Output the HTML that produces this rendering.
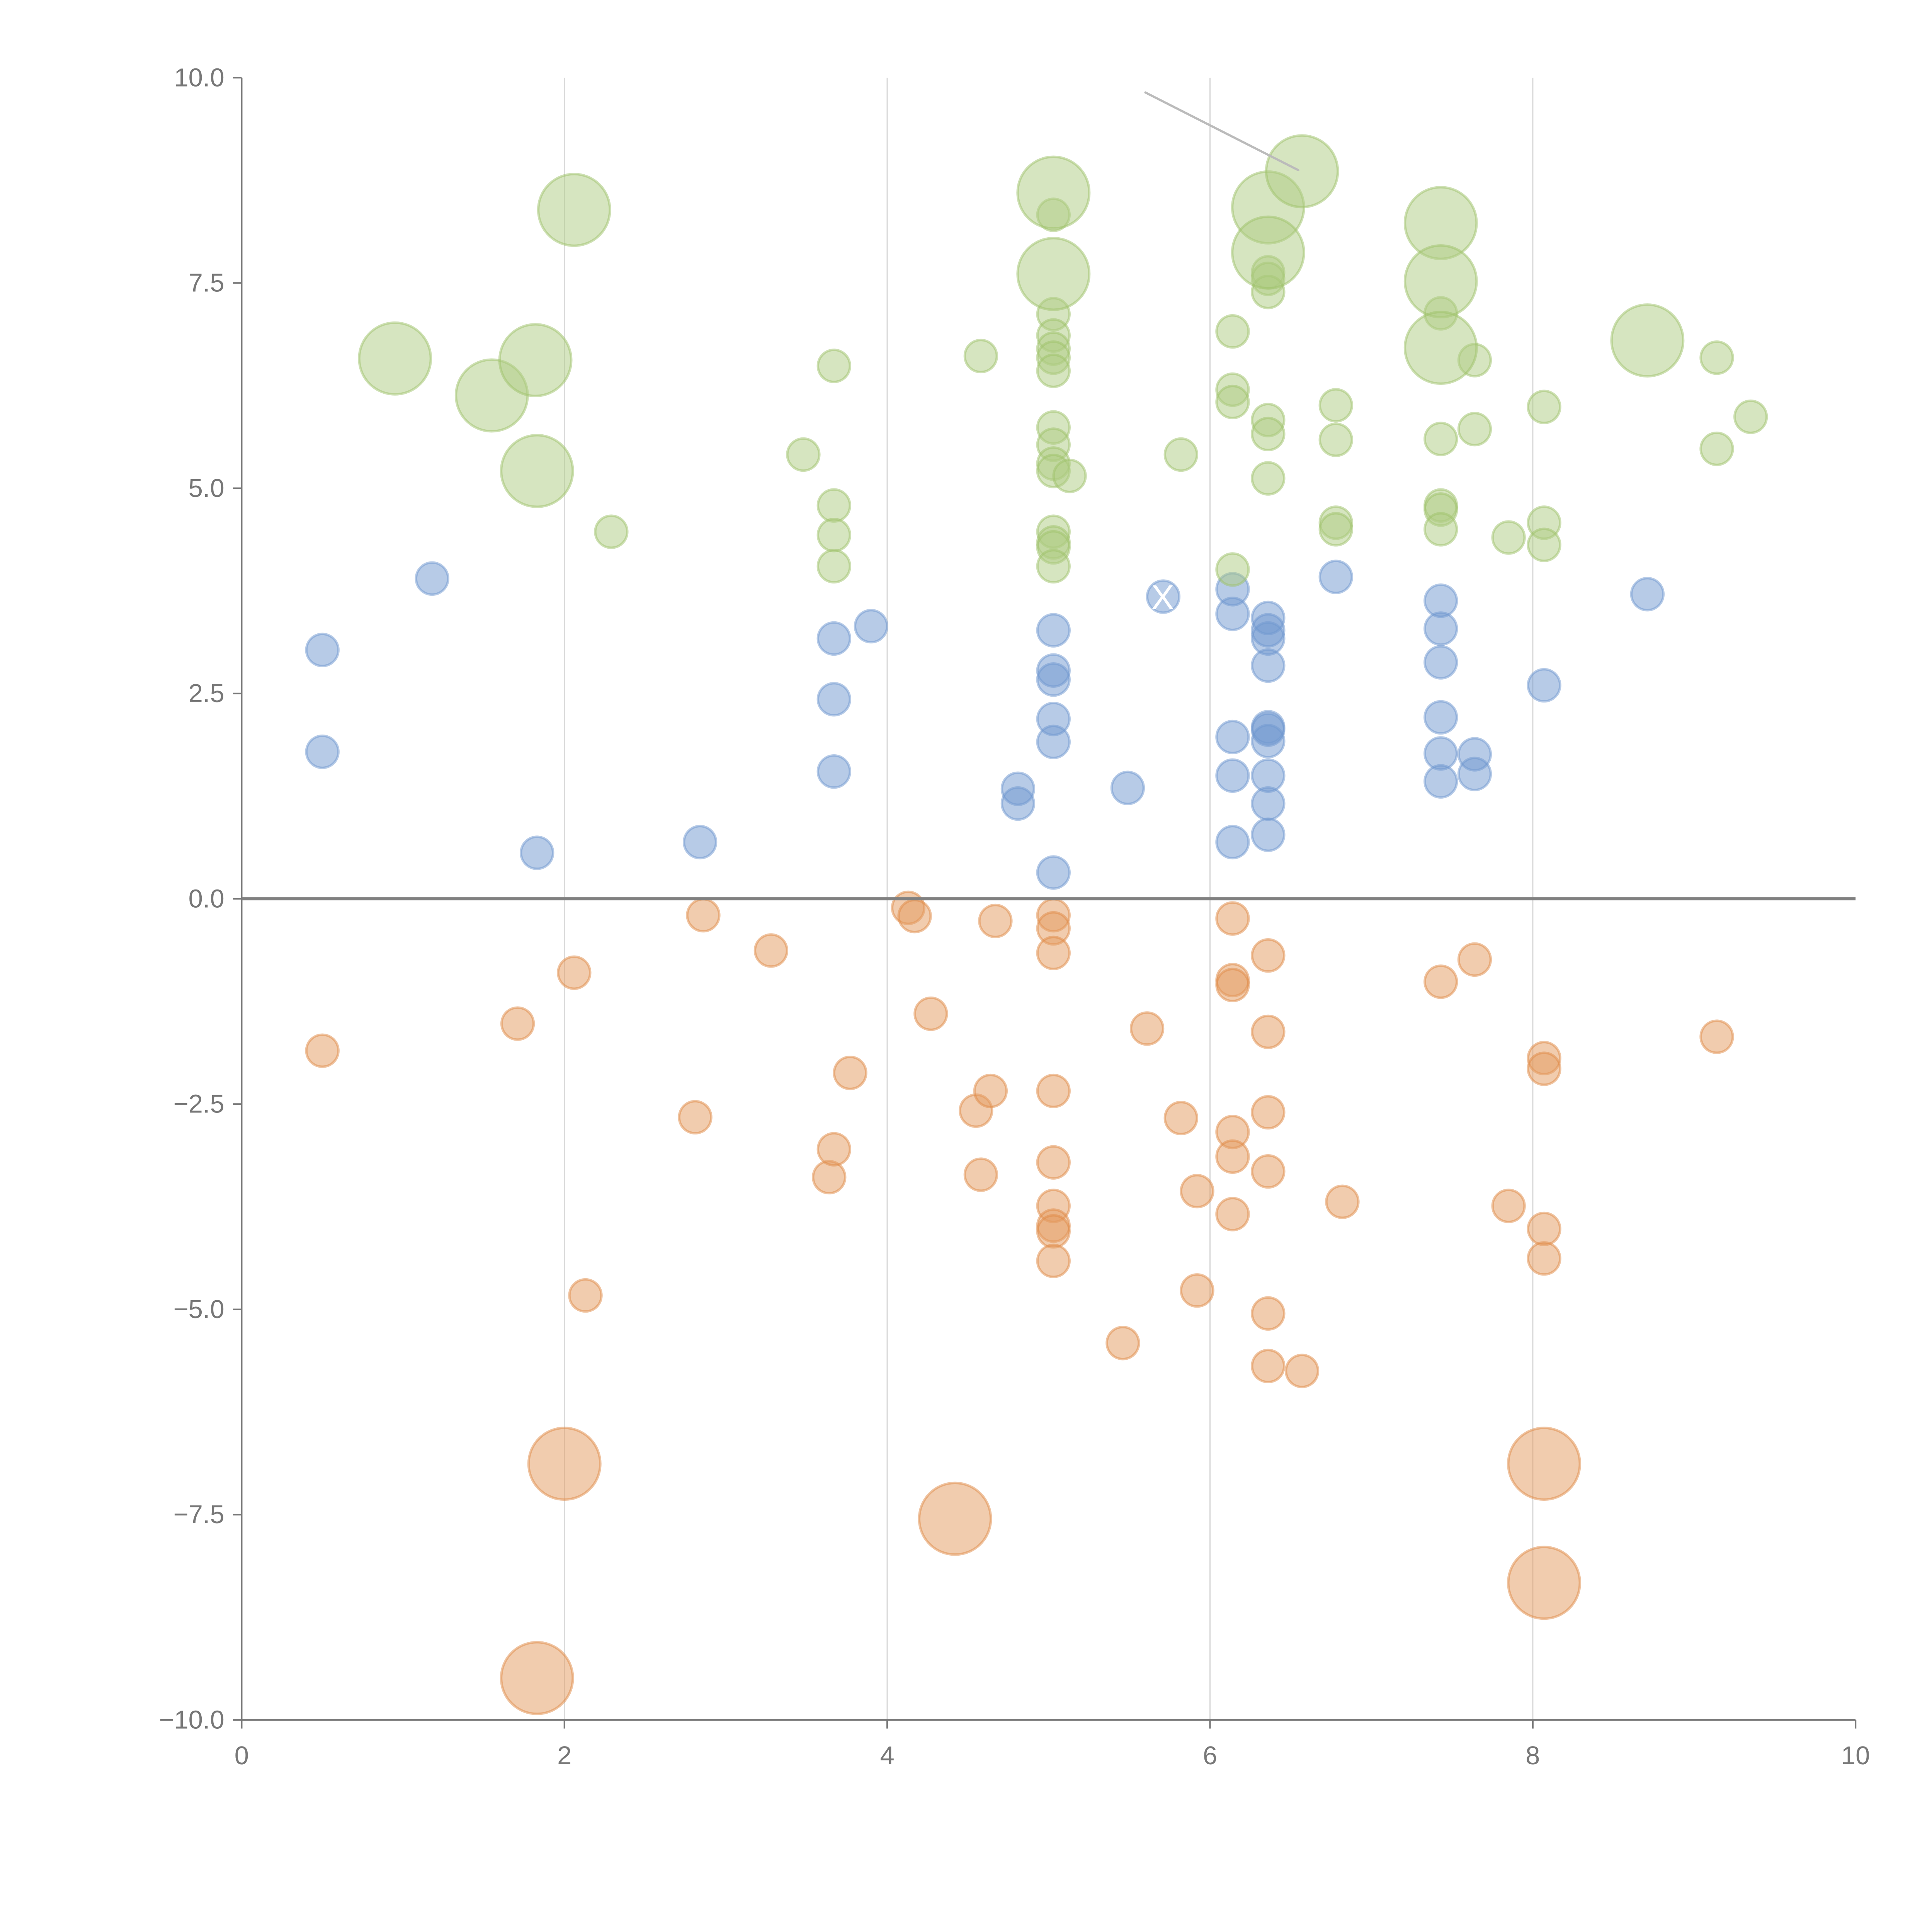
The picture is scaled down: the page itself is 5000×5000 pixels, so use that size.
<!DOCTYPE html>
<html><head><meta charset="utf-8"><style>
html,body{margin:0;padding:0;background:#fff;width:5000px;height:5000px;overflow:hidden}
svg{display:block}
text{font-family:"Liberation Sans",sans-serif;fill:#777}
</style></head><body>
<svg id="chart" width="5000" height="5000" viewBox="0 0 1567 1567" xmlns="http://www.w3.org/2000/svg">
<g id="grid"></g>
<g id="marks"></g>
<g id="axes"></g>
</svg>
<script>
const xTicks=[0,2,4,6,8,10];
const xTickLabels=["0","2","4","6","8","10"];
const yTicks=[10,7.5,5,2.5,0,-2.5,-5,-7.5,-10];
const yTickLabels=["10.0","7.5","5.0","2.5","0.0","\u22122.5","\u22125.0","\u22127.5","\u221210.0"];
const blueX=[0.5,0.5,1.18,1.83,2.84,3.67,3.67,3.67,3.9,4.81,4.81,5.03,5.03,5.03,5.03,5.03,5.03,5.49,5.71,6.14,6.14,6.14,6.14,6.14,6.36,6.36,6.36,6.36,6.36,6.36,6.36,6.36,6.36,6.36,6.78,7.43,7.43,7.43,7.43,7.43,7.43,7.64,7.64,8.07,8.71];
const blueY=[3.03,1.79,3.9,0.56,0.69,3.17,2.43,1.55,3.32,1.34,1.16,3.27,2.78,2.67,2.19,1.91,0.32,1.35,3.68,3.77,3.47,1.97,1.5,0.69,3.42,3.27,3.17,2.84,2.09,2.06,1.92,1.5,1.16,0.78,3.92,3.63,3.29,2.88,2.21,1.77,1.43,1.76,1.52,2.6,3.71];
const blueS=blueX.map(()=>1);
const orangeX=[0.5,1.71,2.06,2.13,2.81,2.86,3.28,3.64,3.67,3.77,4.13,4.17,4.27,4.55,4.58,4.64,4.67,5.03,5.03,5.03,5.03,5.03,5.03,5.03,5.03,5.03,5.46,5.61,5.82,5.92,5.92,6.14,6.14,6.14,6.14,6.14,6.14,6.36,6.36,6.36,6.36,6.36,6.36,6.57,6.82,7.43,7.64,7.85,8.07,8.07,8.07,8.07,9.14,2.0,4.42,1.83,8.07,8.07];
const orangeY=[-1.85,-1.52,-0.9,-4.83,-2.66,-0.2,-0.63,-3.39,-3.05,-2.12,-0.11,-0.21,-1.4,-2.58,-3.36,-2.34,-0.27,-0.2,-0.36,-0.66,-2.34,-3.21,-3.74,-3.98,-4.05,-4.41,-5.41,-1.58,-2.67,-3.56,-4.77,-0.24,-0.99,-1.05,-2.84,-3.14,-3.84,-0.69,-1.62,-2.6,-3.32,-5.05,-5.69,-5.75,-3.69,-1.01,-0.74,-3.74,-1.94,-2.07,-4.02,-4.38,-1.68,-6.88,-7.55,-9.49,-6.88,-8.33];
const orangeS=orangeX.map((_,i)=>i>=53?5:1);
const greenX=[2.29,3.48,3.67,3.67,3.67,3.67,4.58,5.03,5.03,5.03,5.03,5.03,5.03,5.03,5.03,5.03,5.03,5.03,5.03,5.03,5.03,5.13,5.82,6.14,6.14,6.14,6.14,6.36,6.36,6.36,6.36,6.36,6.36,6.78,6.78,6.78,6.78,7.43,7.43,7.43,7.43,7.43,7.64,7.64,7.85,8.07,8.07,8.07,9.14,9.14,9.35,0.95,1.55,1.82,1.83,2.06,5.03,5.03,6.36,6.36,6.57,7.43,7.43,7.43,8.71];
const greenY=[4.47,5.41,6.49,4.79,4.43,4.05,6.61,8.33,7.12,6.86,6.7,6.59,6.43,5.74,5.53,5.3,5.21,4.47,4.34,4.28,4.05,5.15,5.41,6.91,6.2,6.05,4.01,7.63,7.55,7.39,5.83,5.66,5.12,6.01,5.59,4.58,4.5,7.13,5.6,4.79,4.74,4.5,6.56,5.72,4.4,5.99,4.58,4.31,6.59,5.48,5.87,6.58,6.13,6.56,5.21,8.39,8.6,7.61,8.42,7.87,8.86,8.23,7.52,6.71,6.8];
const greenS=greenX.map((_,i)=>i>=51?5:1);

const NS="http://www.w3.org/2000/svg";
const X0=196,X1=1505,Y0=1395,Y1=63;
const sx=v=>X0+(v-0)/(10-0)*(X1-X0);
const sy=v=>Y0-(v+10)/20*(Y0-Y1);
const sr=s=>Math.sqrt(s)*13;
function mk(tag,attrs,parent){const e=document.createElementNS(NS,tag);for(const k in attrs)e.setAttribute(k,attrs[k]);parent.appendChild(e);return e;}
const grid=document.getElementById('grid'),marks=document.getElementById('marks'),axes=document.getElementById('axes');
xTicks.forEach((t,i)=>{
  if(t>0&&t<10){const l=mk('line',{x1:sx(t),x2:sx(t),y1:Y1,y2:Y0,stroke:'#d9d9d9','stroke-width':1},grid);
  
  }
  const tk=mk('line',{x1:sx(t),x2:sx(t),y1:Y0,y2:Y0+7,stroke:'#777','stroke-width':1.3},axes);
  
  
  const tx=mk('text',{x:sx(t),y:Y0+36,'text-anchor':'middle','font-size':21},axes);tx.textContent=xTickLabels[i];
  
  
});
yTicks.forEach((t,i)=>{
  const tk=mk('line',{x1:X0-7,x2:X0,y1:sy(t),y2:sy(t),stroke:'#777','stroke-width':1.3},axes);
  
  
  const tx=mk('text',{x:X0-14,y:sy(t)+7,'text-anchor':'end','font-size':21},axes);tx.textContent=yTickLabels[i];
  
  
});
const series=[[blueX,blueY,blueS,'#6f97cf','#6f97cf','blue'],[orangeX,orangeY,orangeS,'#e49a5e','#e08a45','orange'],[greenX,greenY,greenS,'#aecb82','#9dc26a','green']];
series.forEach(([xs,ys,ss,fill,stroke,nm])=>{
  xs.forEach((x,i)=>{
    const c=mk('circle',{cx:sx(x),cy:sy(ys[i]),r:sr(ss[i]),fill:fill,'fill-opacity':0.5,stroke:stroke,'stroke-opacity':0.5,'stroke-width':2},marks);
    
    
  });
});
const ann=mk('line',{x1:929,y1:75,x2:1053,y2:138,stroke:'#bbb','stroke-width':1.8,'stroke-linecap':'round'},marks);


const xa=mk('line',{x1:X0,x2:X1,y1:Y0,y2:Y0,stroke:'#777','stroke-width':1.3},axes);


const ya=mk('line',{x1:X0,x2:X0,y1:Y1,y2:Y0,stroke:'#777','stroke-width':1.3},axes);


const zl=mk('line',{x1:X0,x2:X1,y1:sy(0),y2:sy(0),stroke:'#808080','stroke-width':2.5},axes);


const lx=mk('text',{x:943,y:494,'text-anchor':'middle','font-size':28,style:'fill:#fff'},axes);lx.textContent='X';


</script>
</body></html>
